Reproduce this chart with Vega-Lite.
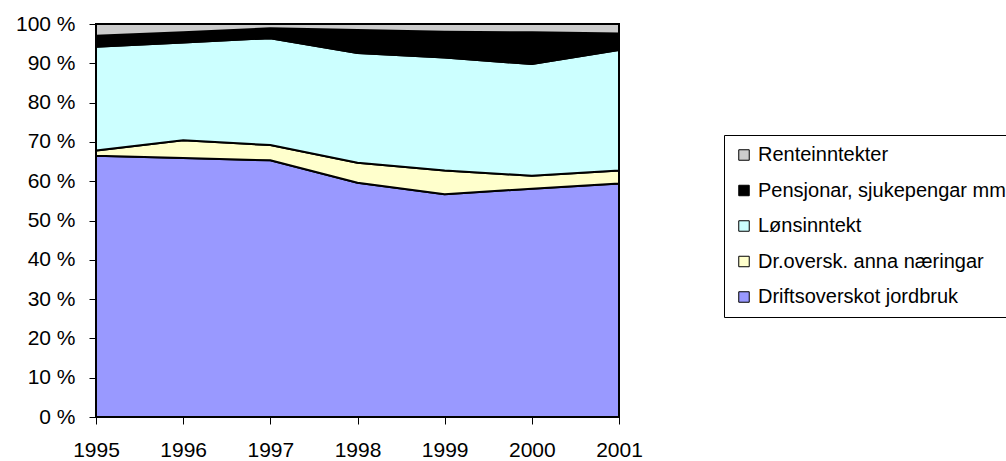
{
  "$schema": "https://vega.github.io/schema/vega-lite/v6.json",
  "width": 523,
  "height": 393,
  "autosize": {"type": "none"},
  "padding": {"left": 96, "top": 24, "right": 387, "bottom": 44},
  "background": "white",
  "config": {
    "view": {"stroke": null},
    "font": "Liberation Sans",
    "axis": {"grid": false, "domainColor": "black", "tickColor": "black", "labelColor": "black", "labelFont": "Liberation Sans", "title": null}
  },
  "data": {
    "values": [
      {"year": "1995", "series": "Driftsoverskot jordbruk", "rank": 1, "value": 66.5},
      {"year": "1996", "series": "Driftsoverskot jordbruk", "rank": 1, "value": 65.9},
      {"year": "1997", "series": "Driftsoverskot jordbruk", "rank": 1, "value": 65.3},
      {"year": "1998", "series": "Driftsoverskot jordbruk", "rank": 1, "value": 59.6},
      {"year": "1999", "series": "Driftsoverskot jordbruk", "rank": 1, "value": 56.7},
      {"year": "2000", "series": "Driftsoverskot jordbruk", "rank": 1, "value": 58.1},
      {"year": "2001", "series": "Driftsoverskot jordbruk", "rank": 1, "value": 59.4},
      {"year": "1995", "series": "Dr.oversk. anna næringar", "rank": 2, "value": 1.3},
      {"year": "1996", "series": "Dr.oversk. anna næringar", "rank": 2, "value": 4.5},
      {"year": "1997", "series": "Dr.oversk. anna næringar", "rank": 2, "value": 3.9},
      {"year": "1998", "series": "Dr.oversk. anna næringar", "rank": 2, "value": 5.1},
      {"year": "1999", "series": "Dr.oversk. anna næringar", "rank": 2, "value": 6.0},
      {"year": "2000", "series": "Dr.oversk. anna næringar", "rank": 2, "value": 3.3},
      {"year": "2001", "series": "Dr.oversk. anna næringar", "rank": 2, "value": 3.3},
      {"year": "1995", "series": "Lønsinntekt", "rank": 3, "value": 26.4},
      {"year": "1996", "series": "Lønsinntekt", "rank": 3, "value": 24.9},
      {"year": "1997", "series": "Lønsinntekt", "rank": 3, "value": 27.2},
      {"year": "1998", "series": "Lønsinntekt", "rank": 3, "value": 27.9},
      {"year": "1999", "series": "Lønsinntekt", "rank": 3, "value": 28.8},
      {"year": "2000", "series": "Lønsinntekt", "rank": 3, "value": 28.4},
      {"year": "2001", "series": "Lønsinntekt", "rank": 3, "value": 30.7},
      {"year": "1995", "series": "Pensjonar, sjukepengar mm", "rank": 4, "value": 2.8},
      {"year": "1996", "series": "Pensjonar, sjukepengar mm", "rank": 4, "value": 2.6},
      {"year": "1997", "series": "Pensjonar, sjukepengar mm", "rank": 4, "value": 2.5},
      {"year": "1998", "series": "Pensjonar, sjukepengar mm", "rank": 4, "value": 5.9},
      {"year": "1999", "series": "Pensjonar, sjukepengar mm", "rank": 4, "value": 6.5},
      {"year": "2000", "series": "Pensjonar, sjukepengar mm", "rank": 4, "value": 8.1},
      {"year": "2001", "series": "Pensjonar, sjukepengar mm", "rank": 4, "value": 4.2},
      {"year": "1995", "series": "Renteinntekter", "rank": 5, "value": 3.0},
      {"year": "1996", "series": "Renteinntekter", "rank": 5, "value": 2.1},
      {"year": "1997", "series": "Renteinntekter", "rank": 5, "value": 1.1},
      {"year": "1998", "series": "Renteinntekter", "rank": 5, "value": 1.5},
      {"year": "1999", "series": "Renteinntekter", "rank": 5, "value": 2.0},
      {"year": "2000", "series": "Renteinntekter", "rank": 5, "value": 2.1},
      {"year": "2001", "series": "Renteinntekter", "rank": 5, "value": 2.4}
    ]
  },
  "mark": {"type": "area", "stroke": "black", "strokeWidth": 2, "opacity": 1, "fillOpacity": 1},
  "encoding": {
    "x": {
      "field": "year", "type": "ordinal",
      "scale": {"type": "point", "padding": 0},
      "axis": {"labelAngle": 0, "labelFontSize": 21, "tickSize": 7, "labelPadding": 15, "domainWidth": 1}
    },
    "y": {
      "field": "value", "type": "quantitative", "stack": "normalize",
      "scale": {"domain": [0, 1], "nice": false},
      "axis": {"values": [0, 0.1, 0.2, 0.3, 0.4, 0.5, 0.6, 0.7, 0.8, 0.9, 1], "labelExpr": "round(datum.value * 100) + ' %'", "labelFontSize": 21, "tickSize": 7, "labelPadding": 14}
    },
    "color": {
      "field": "series", "type": "nominal",
      "scale": {
        "domain": ["Renteinntekter", "Pensjonar, sjukepengar mm", "Lønsinntekt", "Dr.oversk. anna næringar", "Driftsoverskot jordbruk"],
        "range": ["#CCCCCC", "#000000", "#CCFFFF", "#FFFFCC", "#9999FF"]
      },
      "legend": {
        "title": null, "orient": "none", "legendX": 628, "legendY": 111,
        "strokeColor": "black", "fillColor": "white", "padding": 10,
        "symbolType": "square", "symbolSize": 110, "symbolStrokeColor": "black", "symbolStrokeWidth": 1,
        "labelFontSize": 20, "labelColor": "black", "labelFont": "Liberation Sans", "labelOffset": 4,
        "rowPadding": 15.5, "labelLimit": 400
      }
    },
    "order": {"field": "rank", "type": "quantitative"}
  }
}
